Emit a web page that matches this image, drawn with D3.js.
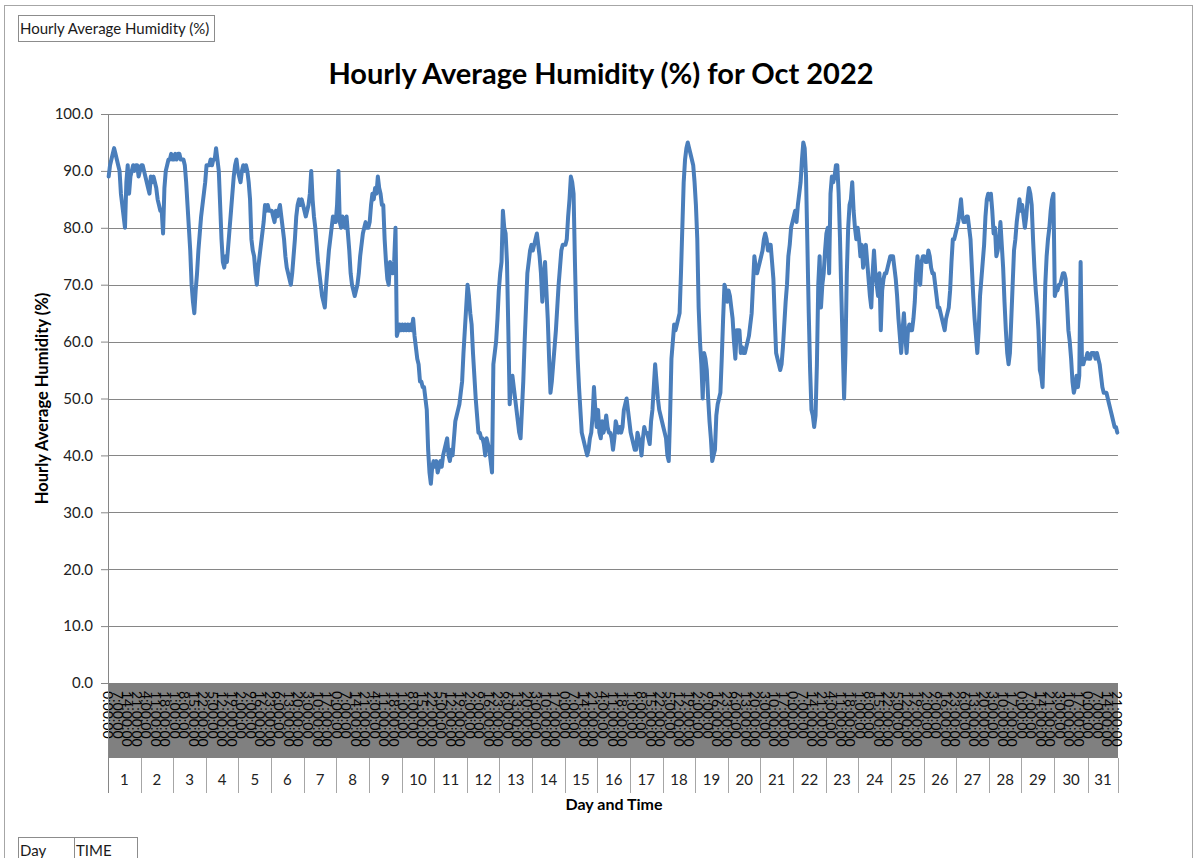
<!DOCTYPE html>
<html>
<head>
<meta charset="utf-8">
<script src="https://cdn.jsdelivr.net/npm/d3@7"></script>
<style>
  body { margin: 0; background: #fff; }
  svg { display: block; font-family: Lato, "Open Sans", sans-serif; }
</style>
</head>
<body>
<svg id="chart" width="1197" height="858"></svg>
<script>
// hourly average humidity, one array per day of Oct 2022
const oct01 = [89, 91, 92, 93, 94, 93, 92, 91, 90, 86, 84, 82, 80, 88, 91, 86, 89, 90, 91, 90, 91, 91, 89, 90];
const oct02 = [91, 91, 90, 89, 88, 87, 86, 89, 88, 89, 88, 87, 85, 84, 83, 83, 79, 87, 90, 91, 92, 92, 93, 92];
const oct03 = [92, 93, 92, 93, 93, 92, 92, 92, 91, 88, 84, 80, 76, 70, 67, 65, 69, 72, 76, 79, 82, 84, 86, 88];
const oct04 = [91, 91, 91, 92, 91, 92, 92, 94, 92, 90, 84, 78, 74, 73, 75, 74, 77, 80, 83, 86, 89, 91, 92, 90];
const oct05 = [89, 88, 90, 91, 90, 91, 90, 88, 85, 78, 76, 75, 72, 70, 73, 75, 77, 79, 81, 84, 83, 84, 83, 83];
const oct06 = [83, 82, 81, 83, 82, 83, 84, 82, 80, 78, 75, 73, 72, 71, 70, 72, 75, 78, 82, 84, 85, 84, 85, 84];
const oct07 = [83, 82, 83, 84, 86, 90, 85, 82, 80, 77, 74, 72, 70, 68, 67, 66, 70, 73, 76, 78, 80, 82, 81, 81];
const oct08 = [84, 90, 81, 80, 82, 81, 80, 82, 79, 76, 72, 70, 69, 68, 69, 70, 72, 75, 77, 79, 80, 81, 80, 80];
const oct09 = [81, 84, 86, 85, 87, 86, 89, 87, 86, 84, 84, 78, 74, 71, 70, 74, 73, 72, 74, 80, 61, 62, 63, 62];
const oct10 = [63, 62, 63, 62, 63, 62, 63, 62, 64, 61, 59, 57, 56, 53, 53, 52, 52, 50, 48, 41, 37, 35, 38, 39];
const oct11 = [38, 39, 37, 38, 39, 38, 40, 41, 42, 43, 40, 39, 41, 40, 43, 46, 47, 48, 49, 51, 53, 58, 62, 66];
const oct12 = [70, 68, 65, 63, 58, 54, 50, 47, 44, 44, 43, 43, 42, 40, 43, 42, 41, 39, 37, 56, 58, 60, 64, 69];
const oct13 = [72, 74, 83, 80, 79, 74, 62, 49, 53, 54, 52, 50, 48, 46, 44, 43, 48, 53, 60, 66, 72, 74, 76, 77];
const oct14 = [76, 77, 78, 79, 77, 75, 72, 67, 71, 74, 69, 64, 57, 51, 53, 56, 59, 62, 66, 70, 73, 76, 77, 77];
const oct15 = [77, 78, 82, 85, 89, 88, 86, 74, 64, 57, 52, 48, 44, 43, 42, 41, 40, 41, 43, 44, 47, 52, 48, 45];
const oct16 = [48, 44, 43, 46, 44, 45, 47, 45, 44, 44, 43, 41, 43, 46, 45, 44, 45, 44, 45, 48, 49, 50, 48, 46];
const oct17 = [44, 43, 42, 41, 41, 44, 43, 42, 40, 43, 45, 44, 44, 43, 42, 46, 48, 52, 56, 53, 50, 48, 47, 46];
const oct18 = [45, 44, 43, 40, 39, 47, 57, 60, 63, 62, 63, 64, 65, 72, 80, 88, 92, 94, 95, 94, 93, 92, 91, 88];
const oct19 = [84, 78, 66, 60, 56, 50, 58, 57, 55, 50, 46, 43, 39, 40, 41, 47, 49, 50, 51, 57, 64, 70, 69, 67];
const oct20 = [69, 68, 66, 64, 60, 57, 62, 62, 62, 58, 59, 58, 58, 59, 60, 61, 63, 65, 70, 75, 73, 72, 73, 74];
const oct21 = [75, 76, 78, 79, 78, 76, 77, 77, 74, 71, 64, 58, 57, 56, 55, 56, 59, 63, 67, 70, 75, 77, 80, 81];
const oct22 = [82, 83, 81, 84, 86, 88, 92, 95, 94, 89, 77, 65, 55, 48, 47, 45, 47, 56, 70, 75, 66, 70, 72, 76];
const oct23 = [79, 80, 72, 86, 89, 88, 89, 91, 91, 86, 78, 68, 59, 50, 58, 72, 80, 84, 85, 88, 83, 80, 78, 80];
const oct24 = [78, 75, 77, 73, 75, 77, 74, 71, 68, 66, 72, 76, 72, 70, 68, 72, 62, 69, 71, 72, 72, 73, 74, 75];
const oct25 = [75, 75, 73, 71, 68, 64, 61, 58, 62, 65, 61, 58, 62, 63, 62, 62, 64, 67, 72, 75, 72, 70, 74, 75];
const oct26 = [75, 74, 74, 76, 75, 73, 72, 72, 70, 68, 66, 66, 65, 64, 63, 62, 64, 65, 66, 69, 74, 78, 78, 79];
const oct27 = [80, 81, 83, 85, 82, 81, 81, 82, 82, 80, 78, 73, 68, 64, 61, 58, 62, 68, 71, 74, 77, 82, 85, 86];
const oct28 = [85, 86, 83, 79, 80, 75, 76, 78, 81, 77, 73, 67, 62, 58, 56, 58, 64, 70, 76, 78, 81, 83, 85, 83];
const oct29 = [84, 82, 80, 82, 85, 87, 86, 84, 78, 73, 69, 66, 62, 55, 54, 52, 60, 70, 75, 78, 80, 83, 85, 86];
const oct30 = [68, 69, 69, 70, 70, 71, 72, 72, 71, 67, 62, 60, 57, 53, 51, 52, 54, 52, 54, 74, 56, 56, 57, 57, 58];
const oct31 = [57, 57, 58, 58, 58, 57, 58, 57, 56, 54, 52, 51, 51, 51, 50, 49, 48, 47, 46, 45, 45, 44];

const dailyValues = [oct01, oct02, oct03, oct04, oct05, oct06, oct07, oct08, oct09, oct10,
  oct11, oct12, oct13, oct14, oct15, oct16, oct17, oct18, oct19, oct20,
  oct21, oct22, oct23, oct24, oct25, oct26, oct27, oct28, oct29, oct30, oct31];
const dayLabels = dailyValues.map((d, i) => String(i + 1));

// hours of each day (clocks went back on the 30th, data stops on the 31st)
const hoursOct30 = [0, 1, 1, 2, 3, 4, 5, 6, 7, 8, 9, 10, 11, 12, 13, 14, 15, 16, 17, 18, 19, 20, 21, 22, 23];
const hoursFullDay = d3.range(24);
const yTicks = [0, 10, 20, 30, 40, 50, 60, 70, 80, 90, 100];
const timeLabelStep = 7;

// flatten to one point per hour
const points = [];
dailyValues.forEach((vals, di) => {
  const hours = di === 29 ? hoursOct30 : hoursFullDay;
  vals.forEach((v, hi) => {
    points.push({ day: di, hour: hours[hi], value: v });
  });
});
const dayStart = [];
let acc = 0;
dailyValues.forEach(vals => { dayStart.push(acc); acc += vals.length; });
const N = points.length;

const svg = d3.select("#chart");
const plotLeft = 108, plotRight = 1118, plotTop = 114, plotBottom = 683;
const bandBottom = 758, dayBottom = 793;

const x = d3.scaleLinear().domain([0, N]).range([plotLeft, plotRight]);
const y = d3.scaleLinear().domain([0, 100]).range([plotBottom, plotTop]);

// chart area border
svg.append("rect")
  .attr("x", 4.5).attr("y", 5.5)
  .attr("width", 1188).attr("height", 870)
  .attr("fill", "none").attr("stroke", "#a6a6a6");

// pivot field buttons
function fieldButton(x0, y0, w, h, label) {
  svg.append("rect")
    .attr("x", x0 + 0.5).attr("y", y0 + 0.5)
    .attr("width", w).attr("height", h)
    .attr("fill", "#fff").attr("stroke", "#8c8c8c");
  svg.append("text")
    .attr("x", x0 + 2).attr("y", y0 + 19)
    .attr("font-size", 15)
    .attr("fill", "#1a1a1a")
    .text(label);
}
fieldButton(18, 15, 196, 26, "Hourly Average Humidity (%)");
fieldButton(18, 837, 56, 30, "Day");
fieldButton(74, 837, 63, 30, "TIME");

// title
svg.append("text")
  .attr("x", 601).attr("y", 84)
  .attr("text-anchor", "middle")
  .attr("font-size", 29).attr("font-weight", "bold")
  .attr("fill", "#000")
  .text("Hourly Average Humidity (%) for Oct 2022");

// y axis ticks and labels
const yAxis = d3.axisLeft(y)
  .tickValues(yTicks)
  .tickSize(7)
  .tickFormat(d3.format(".1f"));
const gy = svg.append("g")
  .attr("transform", `translate(${plotLeft},0)`)
  .call(yAxis);
gy.select(".domain").remove();
gy.selectAll(".tick line").attr("stroke", "#868686");
gy.selectAll(".tick text")
  .attr("x", -15)
  .attr("font-size", 15)
  .attr("font-family", "Lato, sans-serif")
  .attr("fill", "#222");

// gridlines
svg.append("g")
  .selectAll("line")
  .data(yTicks.filter(d => d > 0))
  .join("line")
  .attr("x1", plotLeft).attr("x2", plotRight)
  .attr("y1", d => Math.round(y(d)) + 0.5).attr("y2", d => Math.round(y(d)) + 0.5)
  .attr("stroke", "#868686");

// y axis title
svg.append("text")
  .attr("transform", `translate(48,${(plotTop + plotBottom) / 2}) rotate(-90)`)
  .attr("text-anchor", "middle")
  .attr("font-size", 16.5).attr("font-weight", "bold")
  .attr("fill", "#000")
  .text("Hourly Average Humidity (%)");

// category axis: time band
svg.append("rect")
  .attr("x", plotLeft).attr("y", plotBottom)
  .attr("width", plotRight - plotLeft).attr("height", bandBottom - plotBottom)
  .attr("fill", "#808080");

const labelIdx = d3.range(0, N, timeLabelStep);
svg.append("g")
  .selectAll("text")
  .data(labelIdx)
  .join("text")
  .attr("transform", i => `translate(${x(i + 0.5)},${plotBottom + 8}) rotate(90)`)
  .attr("dominant-baseline", "central")
  .attr("font-size", 14)
  .attr("fill", "#000")
  .text(i => `${points[i].hour}:00:00`);

// day cells
svg.append("g")
  .selectAll("line")
  .data(dayStart.concat([N]))
  .join("line")
  .attr("x1", i => Math.round(x(i)) + 0.5).attr("x2", i => Math.round(x(i)) + 0.5)
  .attr("y1", bandBottom).attr("y2", dayBottom)
  .attr("stroke", "#a6a6a6");

svg.append("g")
  .selectAll("text")
  .data(dayLabels)
  .join("text")
  .attr("x", (d, i) => x(dayStart[i] + dailyValues[i].length / 2))
  .attr("y", 785)
  .attr("text-anchor", "middle")
  .attr("font-size", 15)
  .attr("fill", "#222")
  .text(d => d);

// axis line
svg.append("line")
  .attr("x1", plotLeft + 0.5).attr("x2", plotLeft + 0.5)
  .attr("y1", plotTop).attr("y2", dayBottom)
  .attr("stroke", "#868686");

svg.append("text")
  .attr("x", 614).attr("y", 810)
  .attr("text-anchor", "middle")
  .attr("font-size", 16).attr("font-weight", "bold")
  .attr("fill", "#000")
  .text("Day and Time");

// series line
const line = d3.line()
  .x((d, i) => x(i + 0.5))
  .y(d => y(d.value));

svg.append("path")
  .datum(points)
  .attr("d", line)
  .attr("fill", "none")
  .attr("stroke", "#4a7ebb")
  .attr("stroke-width", 4)
  .attr("stroke-linejoin", "round")
  .attr("stroke-linecap", "round");
</script>
</body>
</html>
